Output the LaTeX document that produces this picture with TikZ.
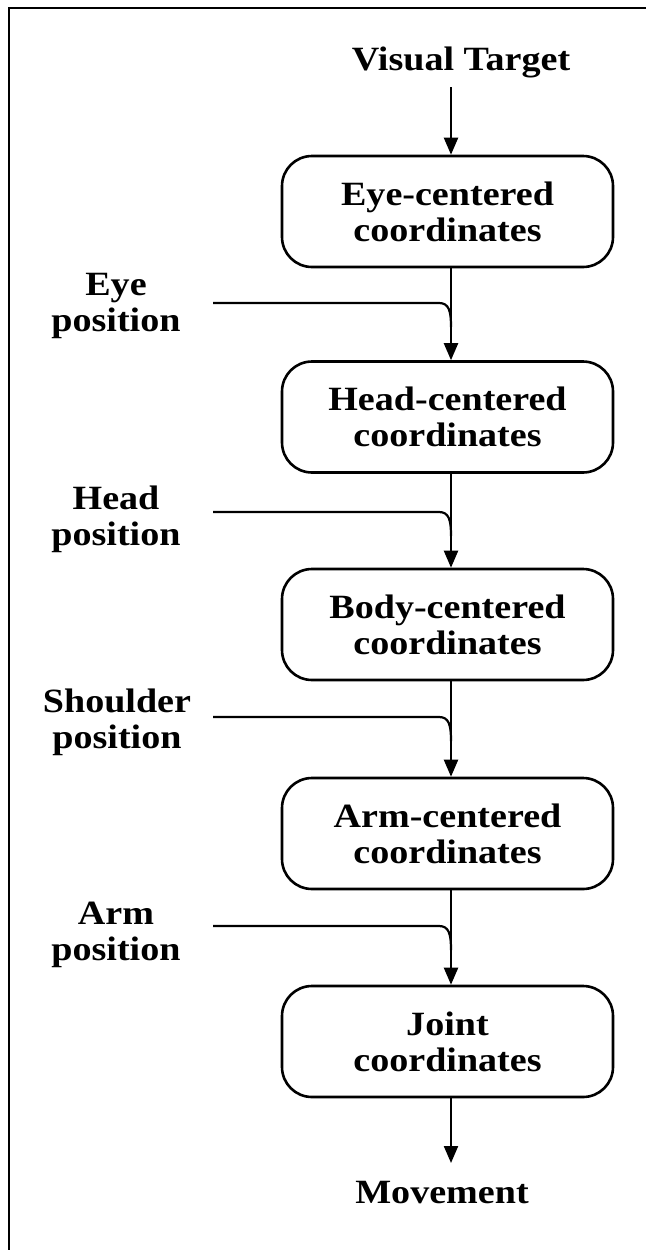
\documentclass[tikz,border=0pt]{standalone}
\usepackage{fontspec}
\setmainfont{Liberation Serif}[FakeStretch=1.12]
\usetikzlibrary{arrows.meta,calc}
\begin{document}
\begin{tikzpicture}[x=1pt,y=-1pt,
  txt/.style={font=\fontsize{34}{36}\selectfont\bfseries, inner sep=0pt, align=center},
  box/.style={txt, draw, line width=2.6pt, rounded corners=30pt, minimum width=331pt, minimum height=111pt},
  conn/.style={line width=2.2pt},
  arr/.style={conn, -{Triangle[length=17pt,width=14pt]}},
  frameline/.style={line width=2pt}]
\useasboundingbox (0,0) rectangle (646,1250);
% frame
\draw[frameline] (9,1250) -- (9,8) -- (646,8);
% spine x
\coordinate (sp) at (451,0);
% top and bottom labels
\node[txt, anchor=base] (vt) at (461,70) {Visual Target};
\node[txt, anchor=base] (mv) at (442,1203) {Movement};
% boxes
\node[box] (b1) at (447.5,211.5) {Eye-centered\\coordinates};
\node[box] (b2) at (447.5,417) {Head-centered\\coordinates};
\node[box] (b3) at (447.5,624.5) {Body-centered\\coordinates};
\node[box] (b4) at (447.5,833.5) {Arm-centered\\coordinates};
\node[box] (b5) at (447.5,1041.5) {Joint\\coordinates};
% side labels (base = last line's baseline)
\node[txt, anchor=base] (l1) at (116,331) {Eye\\position};
\node[txt, anchor=base] (l2) at (116,545) {Head\\position};
\node[txt, anchor=base] (l3) at (117,748) {Shoulder\\position};
\node[txt, anchor=base] (l4) at (116,960) {Arm\\position};
% main arrows
\coordinate (vtend) at (451,87);
\coordinate (mvend) at (451,1163);
\draw[arr] (vtend) -- (b1.north -| sp);
\draw[arr] (b1.south -| sp) -- (b2.north -| sp);
\draw[arr] (b2.south -| sp) -- (b3.north -| sp);
\draw[arr] (b3.south -| sp) -- (b4.north -| sp);
\draw[arr] (b4.south -| sp) -- (b5.north -| sp);
\draw[arr] (b5.south -| sp) -- (mvend);
% side inputs
\foreach \n/\yy in {1/303,2/512,3/717,4/926}{
  \coordinate (s\n) at (213,\yy);
  \coordinate (m\n) at (451,\yy+24);
  \draw[conn] (s\n) -- ($(s\n -| m\n)+(-12,0)$) .. controls ($(s\n -| m\n)+(-2,0)$) and ($(m\n)+(0,-16)$) .. (m\n);
}
\end{tikzpicture}
\end{document}
